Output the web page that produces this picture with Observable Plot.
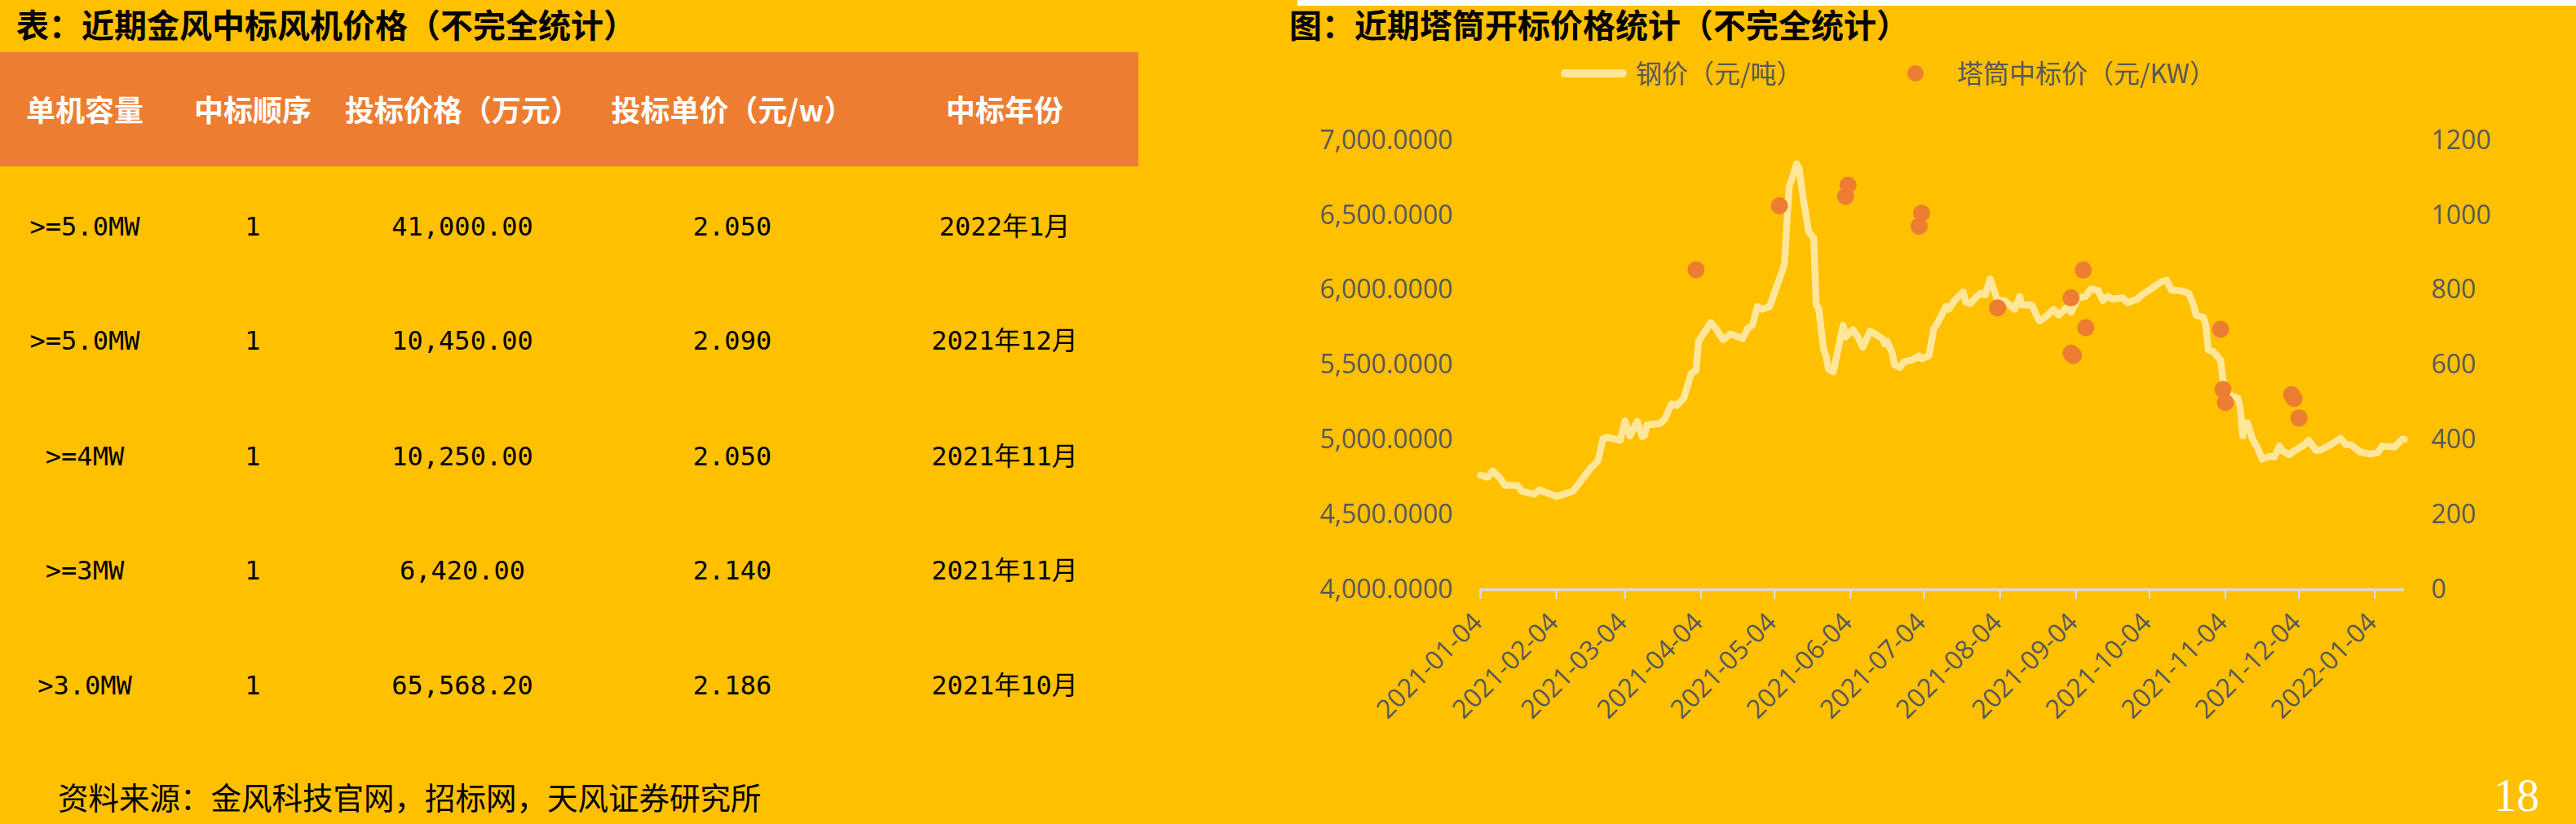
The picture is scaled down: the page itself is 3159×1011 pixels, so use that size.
<!DOCTYPE html>
<html><head><meta charset="utf-8">
<script src="https://cdn.jsdelivr.net/npm/d3@7"></script>
<script src="https://cdn.jsdelivr.net/npm/@observablehq/plot@0.6"></script>
<style>
body{margin:0;}
#page{position:relative;width:3159px;height:1011px;background:#FFC000;overflow:hidden;font-family:"Noto Sans CJK SC",sans-serif;}
.abs{position:absolute;white-space:nowrap;}
.cell{position:absolute;white-space:nowrap;text-align:center;width:420px;}
</style></head><body><div id="page"></div>
<script>
// ---------- table data ----------
const tableTitle = "表：近期金风中标风机价格（不完全统计）";
const chartTitle = "图：近期塔筒开标价格统计（不完全统计）";
const headers = ["单机容量","中标顺序","投标价格（万元）","投标单价（元/w）","中标年份"];
const capacity = [">=5.0MW", ">=5.0MW", ">=4MW", ">=3MW", ">3.0MW"];
const bidOrder = [1, 1, 1, 1, 1];
const bidPrice = [41000.00, 10450.00, 10250.00, 6420.00, 65568.20];
const unitPrice = [2.050, 2.090, 2.050, 2.140, 2.186];
const bidYear = ["2022年1月","2021年12月","2021年11月","2021年11月","2021年10月"];
const sourceNote = "资料来源：金风科技官网，招标网，天风证券研究所";
const pageNumber = "18";

// ---------- chart data ----------
const legendSteel = "钢价（元/吨）";
const legendTower = "塔筒中标价（元/KW）";
const steelDates = ["2021-01-04","2021-01-07","2021-01-09","2021-01-12","2021-01-14","2021-01-19","2021-01-21","2021-01-26","2021-01-28","2021-01-31",
"2021-02-04","2021-02-10","2021-02-11","2021-02-18","2021-02-21","2021-02-23","2021-02-25","2021-03-02","2021-03-04","2021-03-06",
"2021-03-09","2021-03-11","2021-03-12","2021-03-13","2021-03-18","2021-03-20","2021-03-23","2021-03-25","2021-03-28","2021-03-31",
"2021-04-02","2021-04-03","2021-04-08","2021-04-10","2021-04-13","2021-04-16","2021-04-21","2021-04-23","2021-04-25","2021-04-27",
"2021-04-29","2021-05-02","2021-05-06","2021-05-07","2021-05-08","2021-05-10","2021-05-11","2021-05-13","2021-05-14","2021-05-16",
"2021-05-18","2021-05-20","2021-05-21","2021-05-22","2021-05-24","2021-05-25","2021-05-26","2021-05-28","2021-05-30","2021-06-01",
"2021-06-02","2021-06-05","2021-06-07","2021-06-09","2021-06-12","2021-06-14","2021-06-17","2021-06-18","2021-06-19","2021-06-21",
"2021-06-22","2021-06-24","2021-06-26","2021-06-29","2021-07-02","2021-07-03","2021-07-06","2021-07-08","2021-07-09","2021-07-13",
"2021-07-14","2021-07-16","2021-07-17","2021-07-20","2021-07-21","2021-07-23","2021-07-25","2021-07-27","2021-07-29","2021-07-31",
"2021-08-01","2021-08-03","2021-08-06","2021-08-10","2021-08-12","2021-08-13","2021-08-17","2021-08-20","2021-08-22","2021-08-26",
"2021-08-28","2021-08-31","2021-09-02","2021-09-05","2021-09-08","2021-09-10","2021-09-13","2021-09-15","2021-09-17","2021-09-19",
"2021-09-23","2021-09-25","2021-09-29","2021-10-01","2021-10-09","2021-10-11","2021-10-13","2021-10-16","2021-10-20","2021-10-22",
"2021-10-23","2021-10-26","2021-10-27","2021-10-28","2021-10-30","2021-11-02","2021-11-03","2021-11-04","2021-11-06","2021-11-09",
"2021-11-10","2021-11-11","2021-11-12","2021-11-13","2021-11-15","2021-11-17","2021-11-19","2021-11-22","2021-11-24","2021-11-26",
"2021-11-27","2021-11-30","2021-12-02","2021-12-06","2021-12-08","2021-12-11","2021-12-13","2021-12-17","2021-12-21","2021-12-23",
"2021-12-25","2021-12-29","2022-01-02","2022-01-05","2022-01-07","2022-01-12","2022-01-15","2022-01-16"];
const steelValues = [4765,4751,4794,4745,4697,4697,4658,4638,4667,4648,
4623,4654,4662,4813,4862,5008,5017,4998,5128,5027,
5124,5023,5030,5101,5109,5134,5241,5231,5280,5445,
5465,5659,5785,5746,5669,5708,5678,5746,5766,5892,
5873,5892,6077,6120,6174,6699,6738,6845,6816,6582,
6388,6349,5902,5882,5610,5562,5474,5455,5610,5766,
5688,5737,5688,5620,5727,5708,5678,5640,5659,5581,
5503,5484,5523,5533,5562,5542,5562,5746,5766,5892,
5873,5921,5941,5989,5921,5912,5950,5980,5970,6077,
6028,5931,5931,5873,5960,5902,5902,5795,5814,5873,
5834,5882,5853,5950,5960,6009,6000,5931,5960,5941,
5950,5917,5941,5970,6058,6067,6000,6000,5980,5902,
5834,5820,5766,5601,5591,5533,5397,5358,5299,5280,
5222,5027,5115,5115,5008,4949,4872,4891,4887,4959,
4930,4901,4926,4965,4998,4930,4934,4969,5012,4969,
4969,4920,4906,4914,4959,4953,5004,5004];
const bidDates = ["2021-04-02","2021-05-06","2021-06-02","2021-06-03","2021-07-02","2021-07-03","2021-08-03","2021-09-02","2021-09-02","2021-09-03",
"2021-09-07","2021-09-08","2021-11-02","2021-11-03","2021-11-04","2021-12-01","2021-12-02","2021-12-04"];
const bidValues = [855,1026,1051,1081,971,1006,753,780,632,626,
854,700,696,535,500,521,511,459];
const xTickLabels = ["2021-01-04","2021-02-04","2021-03-04","2021-04-04","2021-05-04","2021-06-04","2021-07-04","2021-08-04","2021-09-04","2021-10-04","2021-11-04","2021-12-04","2022-01-04"];
const leftTicks = [4000,4500,5000,5500,6000,6500,7000];
const rightTicks = [0,200,400,600,800,1000,1200];
const xStart = "2021-01-04", xEnd = "2022-01-16";

// ---------- page ----------
const page = document.getElementById("page");
function add(html, css){ const d=document.createElement("div"); d.className="abs"; d.innerHTML=html; Object.assign(d.style, css); page.appendChild(d); return d; }

// white strip at top right
add("", {left:"1591px", top:"0px", width:"1568px", height:"7px", background:"#fff"});

// titles
add(tableTitle, {left:"20px", top:"0px", fontSize:"40px", lineHeight:"58px", fontWeight:"700", color:"#000"});
add(chartTitle, {left:"1581px", top:"0px", fontSize:"40px", lineHeight:"58px", fontWeight:"700", color:"#000"});

// table header
add("", {left:"0px", top:"64px", width:"1396px", height:"140px", background:"#ED7D31"});
const colCenters = [104, 310, 567, 898, 1232];
function cell(text, cx, cy, css){
  const d=document.createElement("div"); d.className="cell"; d.textContent=text;
  Object.assign(d.style, {left:(cx-210)+"px"}, css);
  d.style.top = cy + "px";
  page.appendChild(d);
}
headers.forEach((h,i)=>cell(h, colCenters[i], 135-22-2, {fontSize:"36px", lineHeight:"44px", fontWeight:"700", color:"#fff"}));

const rowCenters = [278, 418, 560, 700, 841];
const fmtPrice = d3.format(",.2f"), fmtUnit = d3.format(".3f");
const rowFont = {fontFamily:'"DejaVu Sans Mono","Noto Sans CJK SC",monospace', fontSize:"32px", lineHeight:"40px", color:"#000"};
capacity.forEach((c,i)=>{
  const cy = rowCenters[i]-20;
  const vals = [c, String(bidOrder[i]), fmtPrice(bidPrice[i]), fmtUnit(unitPrice[i]), bidYear[i]];
  vals.forEach((v,j)=>cell(v, colCenters[j], cy, rowFont));
});

add(sourceNote, {left:"71px", top:"954px", fontSize:"37.5px", lineHeight:"46px", color:"#000"});
add(pageNumber, {left:"3058px", top:"948px", fontSize:"56px", lineHeight:"56px", color:"#fff", fontFamily:'"Liberation Serif","DejaVu Serif",serif'});

// legend
add("", {left:"1914px", top:"85px", width:"81px", height:"10px", borderRadius:"5px", background:"#FFE699"});
add(legendSteel, {left:"2006px", top:"68px", fontSize:"32px", lineHeight:"40px", color:"#595959"});
add("", {left:"2339px", top:"80px", width:"20px", height:"20px", borderRadius:"10px", background:"#ED7D31"});
add(legendTower, {left:"2400px", top:"68px", fontSize:"32px", lineHeight:"40px", color:"#595959"});

// ---------- plot ----------
const BASE = 4000, K = 2.5; // right axis mapped onto left: 0..1200 -> 4000..7000
const steel = steelDates.map((d,i)=>({date:new Date(d), value:steelValues[i]}));
const bids = bidDates.map((d,i)=>({date:new Date(d), value:bidValues[i]}));
const xTicks = xTickLabels.map(d=>new Date(d));

const chart = Plot.plot({
  width: 1609, height: 800,
  marginLeft: 265, marginRight: 211, marginTop: 42, marginBottom: 207,
  style: {background:"transparent", overflow:"visible", fontFamily:'"Open Sans",sans-serif', fontSize:"32px", color:"#595959"},
  x: {type:"utc", domain:[new Date(xStart), new Date(xEnd)], axis:null, label:null},
  y: {domain:[4000, 7000], axis:null, label:null},
  marks: [
    Plot.axisY({anchor:"left", ticks:leftTicks, tickFormat:d3.format(",.4f"), tickSize:0, tickPadding:34, label:null, fill:"#595959"}),
    Plot.axisY({anchor:"right", ticks:rightTicks.map(v=>BASE+v*K), tickFormat:v=>d3.format("d")(Math.round((v-BASE)/K)), tickSize:0, tickPadding:33, label:null, fill:"#595959"}),
    Plot.axisX({ticks:xTicks, tickSize:12, tickFormat:()=>"", stroke:"#D9D9D9", strokeWidth:2.5, label:null}),
    Plot.ruleY([4000], {stroke:"#D9D9D9", strokeWidth:3.5}),
    Plot.text(xTicks, {x:d=>d, frameAnchor:"bottom", text:(d,i)=>xTickLabels[i], rotate:-45, textAnchor:"end", dx:4, dy:42, fill:"#595959", fontSize:32}),
    Plot.line(steel, {x:"date", y:"value", stroke:"#FFE699", strokeWidth:8.5, strokeLinejoin:"round", strokeLinecap:"round"}),
    Plot.dot(bids, {x:"date", y:d=>BASE+d.value*K, r:10.5, fill:"#ED7D31", stroke:"none"})
  ]
});
const holder = document.createElement("div");
holder.className = "abs";
Object.assign(holder.style, {left:"1550px", top:"130px"});
holder.appendChild(chart);
page.appendChild(holder);
</script>
</body></html>
